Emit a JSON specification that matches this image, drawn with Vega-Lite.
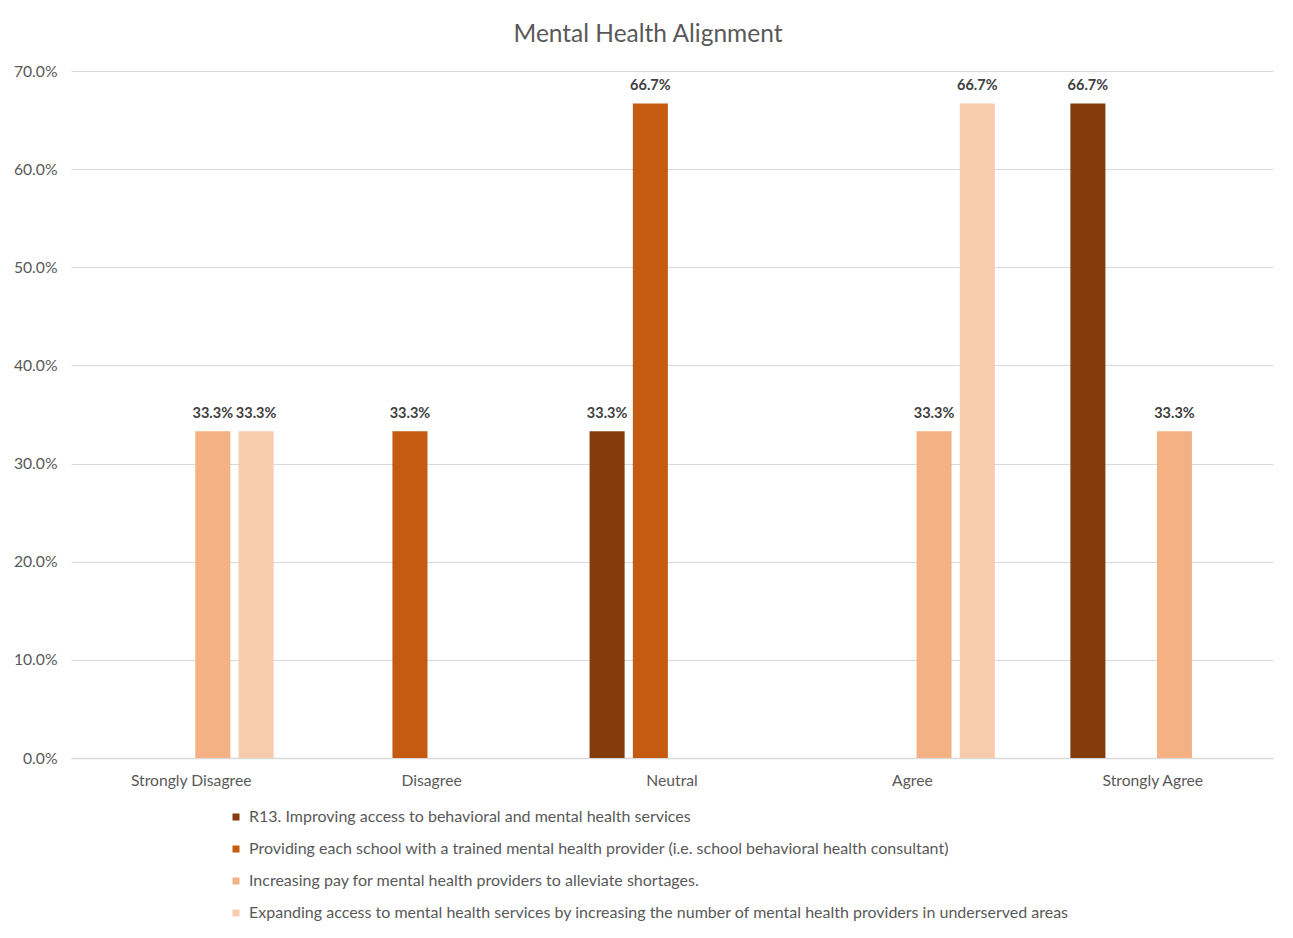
{
  "$schema": "https://vega.github.io/schema/vega-lite/v6.json",
  "width": 1202,
  "height": 687,
  "autosize": "none",
  "padding": {"left": 71, "top": 71, "right": 20, "bottom": 180},
  "background": "white",
  "title": {
    "text": "Mental Health Alignment",
    "fontSize": 24.5,
    "font": "Lato",
    "fontWeight": "normal",
    "color": "#595959",
    "anchor": "middle",
    "dx": -24,
    "offset": 16
  },
  "config": {
    "font": "Lato",
    "view": {"stroke": null},
    "axis": {"labelFont": "Lato", "labelColor": "#595959", "labelFontSize": 15.7, "titleColor": "#595959"},
    "legend": {"labelFont": "Lato"}
  },
  "data": {
    "values": [
      {"response": "Strongly Disagree", "series": "Increasing pay for mental health providers to alleviate shortages.", "value": 0.333},
      {"response": "Strongly Disagree", "series": "Expanding access to mental health services by increasing the number of mental health providers in underserved areas", "value": 0.333},
      {"response": "Disagree", "series": "Providing each school with a trained mental health provider (i.e. school behavioral health consultant)", "value": 0.333},
      {"response": "Neutral", "series": "R13. Improving access to behavioral and mental health services", "value": 0.333},
      {"response": "Neutral", "series": "Providing each school with a trained mental health provider (i.e. school behavioral health consultant)", "value": 0.667},
      {"response": "Agree", "series": "Increasing pay for mental health providers to alleviate shortages.", "value": 0.333},
      {"response": "Agree", "series": "Expanding access to mental health services by increasing the number of mental health providers in underserved areas", "value": 0.667},
      {"response": "Strongly Agree", "series": "R13. Improving access to behavioral and mental health services", "value": 0.667},
      {"response": "Strongly Agree", "series": "Increasing pay for mental health providers to alleviate shortages.", "value": 0.333}
    ]
  },
  "encoding": {
    "x": {
      "field": "response",
      "type": "nominal",
      "sort": ["Strongly Disagree", "Disagree", "Neutral", "Agree", "Strongly Agree"],
      "scale": {"paddingInner": 0.28, "paddingOuter": 0.14},
      "axis": {
        "title": null,
        "labelAngle": 0,
        "ticks": false,
        "domainColor": "#D9D9D9",
        "domainWidth": 1.5,
        "labelPadding": 15,
        "grid": false
      }
    },
    "xOffset": {
      "field": "series",
      "type": "nominal",
      "scale": {
        "domain": [
          "R13. Improving access to behavioral and mental health services",
          "Providing each school with a trained mental health provider (i.e. school behavioral health consultant)",
          "Increasing pay for mental health providers to alleviate shortages.",
          "Expanding access to mental health services by increasing the number of mental health providers in underserved areas"
        ],
        "paddingInner": 0.19,
        "paddingOuter": 0.095
      }
    },
    "y": {
      "field": "value",
      "type": "quantitative",
      "scale": {"domain": [0, 0.7], "nice": false},
      "axis": {
        "title": null,
        "format": ".1%",
        "values": [0, 0.1, 0.2, 0.3, 0.4, 0.5, 0.6, 0.7],
        "labelOverlap": false,
        "ticks": false,
        "domain": false,
        "gridColor": "#D9D9D9",
        "gridWidth": 1.2,
        "labelPadding": 14
      }
    }
  },
  "layer": [
    {
      "mark": {"type": "bar"},
      "encoding": {
        "color": {
          "field": "series",
          "type": "nominal",
          "scale": {
            "domain": [
              "R13. Improving access to behavioral and mental health services",
              "Providing each school with a trained mental health provider (i.e. school behavioral health consultant)",
              "Increasing pay for mental health providers to alleviate shortages.",
              "Expanding access to mental health services by increasing the number of mental health providers in underserved areas"
            ],
            "range": ["#843C0C", "#C55A11", "#F4B183", "#F8CBAD"]
          },
          "legend": {
            "title": null,
            "orient": "none",
            "legendX": 157,
            "legendY": 738,
            "direction": "vertical",
            "symbolType": "square",
            "symbolSize": 49,
            "symbolStrokeWidth": 0,
            "symbolOpacity": 1,
            "labelFontSize": 16,
            "labelColor": "#595959",
            "labelOffset": 5,
            "rowPadding": 16,
            "labelLimit": 1000
          }
        }
      }
    },
    {
      "mark": {"type": "text", "baseline": "alphabetic", "dy": -13, "fontSize": 14.5, "fontWeight": "bold", "color": "#404040", "font": "Lato"},
      "encoding": {
        "text": {"field": "value", "type": "quantitative", "format": ".1%"}
      }
    }
  ]
}
